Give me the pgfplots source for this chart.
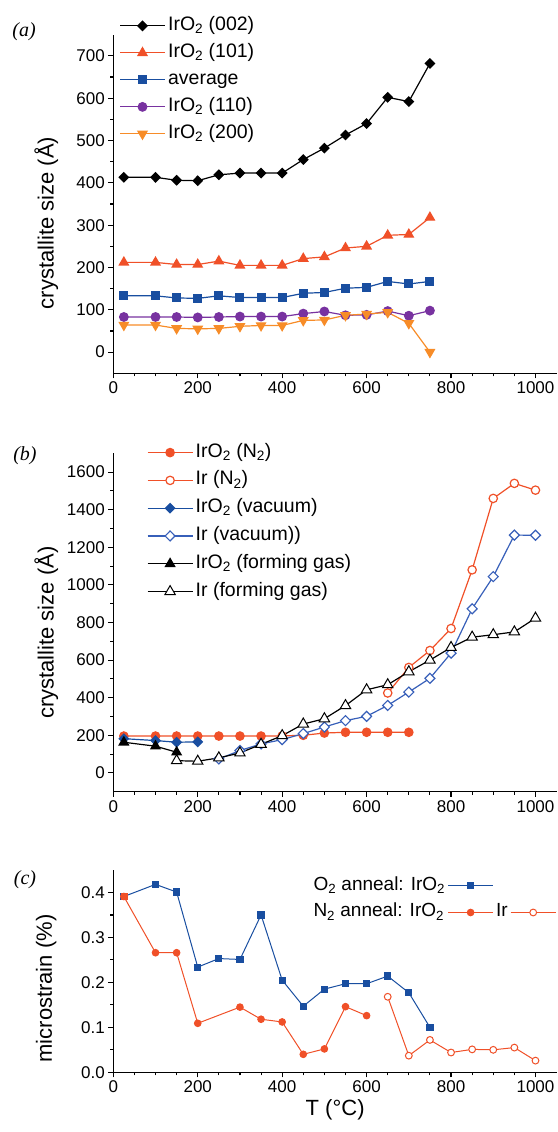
\documentclass[border=0pt]{standalone}
\usepackage{fontspec}
\setmainfont{Liberation Sans}
\newfontfamily\seriffont{Liberation Serif}
\usepackage{pgfplots}
\pgfplotsset{compat=1.18}
\definecolor{cRed}{RGB}{240,80,40}
\definecolor{cBlue}{RGB}{25,78,160}
\definecolor{cLBlue}{RGB}{55,95,185}
\definecolor{cPurple}{RGB}{120,50,160}
\definecolor{cOrange}{RGB}{247,140,40}
\pgfplotsset{
  LL/.style={legend image code/.code={\draw[mark repeat=2,mark phase=2,##1] plot coordinates {(0pt,0pt) (22.5pt,0pt) (45pt,0pt)};}},
  panel/.style={
    scale only axis, width=443.7pt,
    xmin=0, xmax=1051,
    axis x line*=bottom, axis y line*=left,
    axis line style={-, line width=1.2pt, black},
    tick align=outside,
    major tick length=5pt, minor tick length=3pt,
    tick style={black, line width=1.1pt},
    xtick={0,200,400,600,800,1000},
    minor x tick num=3,
    minor y tick num=1,
    tick label style={font=\fontsize{17}{17}\selectfont},
    /pgf/number format/assume math mode=true,
    /pgf/number format/set thousands separator={},
    label style={font=\fontsize{22}{22}\selectfont},
    legend style={draw=none, fill=none, font=\fontsize{19.5}{20}\selectfont,
      inner sep=0pt, nodes={inner sep=2.5pt, text height=13.5pt, text depth=4.5pt}},
    legend cell align=left,
    clip=false,
  },
}
\begin{document}
\begin{tikzpicture}
\useasboundingbox (0,0) rectangle (557pt,1132pt);
% ---------------- panel a
\begin{axis}[panel, at={(113.3pt,758.7pt)}, anchor=south west, height=338.6pt,
  ymin=-50, ymax=750, ytick={0,100,...,700},
  ylabel={crystallite size (Å)},
  ylabel style={at={(rel axis cs:-0.151,0.444)}, anchor=center},
  legend style={at={(rel axis cs:0,1)}, anchor=north west, xshift=5.9pt, yshift=20.5pt, row sep=4pt},
]
\addplot[LL, black, line width=1.2pt, mark=diamond*, mark size=4.6pt, mark options={xscale=1.33}] coordinates {
(25,413) (100,413) (150,406) (200,405) (250,419) (300,423) (350,423) (400,423) (450,455) (500,482) (550,513) (600,540) (650,602) (700,592) (750,682)};
\addlegendentry{IrO\textsubscript{2} (002)}
\addplot[LL, cRed, line width=1.2pt, mark=triangle*, mark size=5.2pt] coordinates {
(25,212) (100,212) (150,207) (200,207) (250,215) (300,205) (350,205) (400,205) (450,221) (500,225) (550,246) (600,250) (650,276) (700,278) (750,318)};
\addlegendentry{IrO\textsubscript{2} (101)}
\addplot[LL, cBlue, line width=1.2pt, mark=square*, mark size=3.9pt] coordinates {
(25,133) (100,133) (150,128) (200,127) (250,133) (300,129) (350,129) (400,129) (450,139) (500,141) (550,151) (600,153) (650,167) (700,161) (750,167)};
\addlegendentry{average}
\addplot[LL, cPurple, line width=1.2pt, mark=*, mark size=4.3pt] coordinates {
(25,83) (100,83) (150,83) (200,82) (250,83) (300,84) (350,84) (400,84) (450,91) (500,96) (550,87) (600,88) (650,97) (700,86) (750,98)};
\addlegendentry{IrO\textsubscript{2} (110)}
\addplot[LL, cOrange, line width=1.2pt, mark=triangle*, mark size=5.2pt, mark options={rotate=180}] coordinates {
(25,64) (100,64) (150,56) (200,55) (250,56) (300,61) (350,63) (400,63) (450,75) (500,76) (550,87) (600,90) (650,94) (700,68) (750,0)};
\addlegendentry{IrO\textsubscript{2} (200)}
\end{axis}
% ---------------- panel b
\begin{axis}[panel, at={(113.3pt,340.3pt)}, anchor=south west, height=338.4pt,
  ymin=-100, ymax=1700, ytick={0,200,...,1600},
  ylabel={crystallite size (Å)},
  ylabel style={at={(rel axis cs:-0.151,0.47)}, anchor=center},
  legend style={at={(rel axis cs:0,1)}, anchor=north west, xshift=33.5pt, yshift=12.4pt, row sep=4.8pt},
]
\addplot[LL, cRed, line width=1.2pt, mark=*, mark size=4.2pt] coordinates {
(25,196) (100,196) (150,196) (200,196) (250,196) (300,196) (350,196) (400,197) (450,200) (500,212) (550,216) (600,216) (650,216) (700,216)};
\addlegendentry{IrO\textsubscript{2} (N\textsubscript{2})}
\addplot[LL, cRed, line width=1.2pt, mark=*, mark size=4.2pt, mark options={fill=white}] coordinates {
(650,425) (700,561) (750,651) (800,768) (850,1080) (900,1460) (950,1540) (1000,1504)};
\addlegendentry{Ir (N\textsubscript{2})}
\addplot[LL, cBlue, line width=1.2pt, mark=diamond*, mark size=4.6pt, mark options={xscale=1.33}] coordinates {
(25,182) (100,172) (150,163) (200,165)};
\addlegendentry{IrO\textsubscript{2} (vacuum)}
\addplot[LL, cLBlue, line width=1.2pt, mark=diamond*, mark size=5pt, mark options={xscale=1.33, fill=white}] coordinates {
(250,74) (300,119) (350,154) (400,177) (450,209) (500,244) (550,278) (600,301) (650,359) (700,430) (750,503) (800,637) (850,873) (900,1044) (950,1265) (1000,1264)};
\addlegendentry{Ir (vacuum))}
\addplot[LL, black, line width=1.2pt, mark=triangle*, mark size=5.3pt] coordinates {
(25,163) (100,142) (150,110)};
\addlegendentry{IrO\textsubscript{2} (forming gas)}
\addplot[LL, black, line width=1.2pt, mark=triangle*, mark size=6pt, mark options={fill=white, line width=1pt}] coordinates {
(150,65) (200,62) (250,80) (300,106) (350,152) (400,198) (450,260) (500,288) (550,358) (600,442) (650,469) (700,538) (750,600) (800,667) (850,722) (900,735) (950,750) (1000,823)};
\addlegendentry{Ir (forming gas)}
\end{axis}
% ---------------- panel c
\begin{axis}[panel, at={(113.3pt,59.7pt)}, anchor=south west, height=202.3pt,
  ymin=0, ymax=0.45, ytick={0,0.1,0.2,0.3,0.4},
  yticklabel style={/pgf/number format/fixed, /pgf/number format/fixed zerofill, /pgf/number format/precision=1},
  ylabel={microstrain (\%)},
  ylabel style={at={(rel axis cs:-0.151,0.414)}, anchor=center},
  xlabel={T (°C)},
  xlabel style={at={(rel axis cs:0.5,0)}, yshift=-37.7pt, anchor=center},
  legend plot pos=right, legend columns=2,
  legend style={at={(rel axis cs:0,1)}, anchor=north west, xshift=197.5pt, yshift=-4.1pt, row sep=3.7pt, font=\fontsize{19}{20}\selectfont},
]
\addplot[LL, cBlue, line width=1pt, mark=square*, mark size=3.1pt] coordinates {
(25,0.391) (100,0.418) (150,0.401) (200,0.234) (250,0.253) (300,0.251) (350,0.350) (400,0.205) (450,0.147) (500,0.185) (550,0.197) (600,0.197) (650,0.214) (700,0.177) (750,0.100)};
\addlegendentry{O\textsubscript{2} anneal: IrO\textsubscript{2}}
\addlegendimage{empty legend}
\addlegendentry{}
\addplot[LL, cRed, line width=1pt, mark=*, mark size=3.3pt] coordinates {
(25,0.391) (100,0.266) (150,0.266) (200,0.109) (300,0.145) (350,0.118) (400,0.112) (450,0.040) (500,0.052) (550,0.146) (600,0.126)};
\addlegendentry{N\textsubscript{2} anneal: IrO\textsubscript{2}}
\addplot[LL, cRed, line width=1pt, mark=*, mark size=3.4pt, mark options={fill=white}] coordinates {
(650,0.168) (700,0.037) (750,0.072) (800,0.044) (850,0.051) (900,0.050) (950,0.055) (1000,0.026)};
\addlegendentry{Ir}
\addplot[cRed, only marks, mark=square*, mark size=3.1pt, forget plot] coordinates {(25,0.391)};
\end{axis}
\node at (24pt,1100pt) {\fontsize{20}{20}\selectfont\seriffont\itshape (a)};
\node at (25pt,676pt) {\fontsize{20}{20}\selectfont\seriffont\itshape (b)};
\node at (25pt,252pt) {\fontsize{20}{20}\selectfont\seriffont\itshape (c)};
\end{tikzpicture}
\end{document}
